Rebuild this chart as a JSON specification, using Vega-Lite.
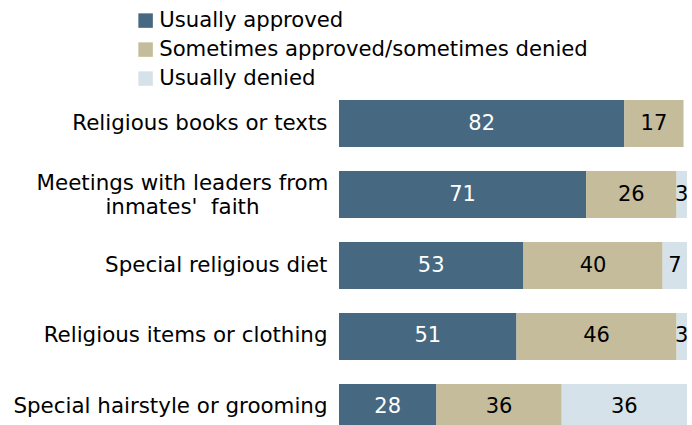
{
  "$schema": "https://vega.github.io/schema/vega-lite/v6.json",
  "autosize": "none",
  "width": 348,
  "height": 331,
  "padding": {"left": 339, "top": 100, "right": 5, "bottom": 0},
  "background": "white",
  "config": {
    "view": {"stroke": null},
    "font": "DejaVu Sans"
  },
  "data": {
    "values": [
      {"item": "Religious books or texts", "response": "Usually approved", "k": 1, "value": 82},
      {"item": "Religious books or texts", "response": "Sometimes approved/sometimes denied", "k": 2, "value": 17},
      {"item": "Religious books or texts", "response": "Usually denied", "k": 3, "value": 0},
      {"item": "Meetings with leaders from|inmates'\u00a0 faith", "response": "Usually approved", "k": 1, "value": 71},
      {"item": "Meetings with leaders from|inmates'\u00a0 faith", "response": "Sometimes approved/sometimes denied", "k": 2, "value": 26},
      {"item": "Meetings with leaders from|inmates'\u00a0 faith", "response": "Usually denied", "k": 3, "value": 3},
      {"item": "Special religious diet", "response": "Usually approved", "k": 1, "value": 53},
      {"item": "Special religious diet", "response": "Sometimes approved/sometimes denied", "k": 2, "value": 40},
      {"item": "Special religious diet", "response": "Usually denied", "k": 3, "value": 7},
      {"item": "Religious items or clothing", "response": "Usually approved", "k": 1, "value": 51},
      {"item": "Religious items or clothing", "response": "Sometimes approved/sometimes denied", "k": 2, "value": 46},
      {"item": "Religious items or clothing", "response": "Usually denied", "k": 3, "value": 3},
      {"item": "Special hairstyle or grooming", "response": "Usually approved", "k": 1, "value": 28},
      {"item": "Special hairstyle or grooming", "response": "Sometimes approved/sometimes denied", "k": 2, "value": 36},
      {"item": "Special hairstyle or grooming", "response": "Usually denied", "k": 3, "value": 36}
    ]
  },
  "transform": [
    {"stack": "value", "groupby": ["item"], "sort": [{"field": "k", "order": "ascending"}], "as": ["x0", "x1"]},
    {"calculate": "(datum.x0 + datum.x1) / 2", "as": "xm"}
  ],
  "encoding": {
    "y": {
      "field": "item",
      "type": "nominal",
      "sort": null,
      "scale": {"paddingInner": 0.338, "paddingOuter": 0},
      "axis": {
        "title": null,
        "domain": false,
        "ticks": false,
        "labelFontSize": 21.4,
        "labelColor": "#000000",
        "labelFont": "DejaVu Sans",
        "labelLineHeight": 24,
        "labelExpr": "split(datum.value, '|')",
        "labelAlign": {"condition": {"test": "indexof(datum.value, '|') >= 0", "value": "center"}, "value": "right"},
        "labelPadding": {"condition": {"test": "indexof(datum.value, '|') >= 0", "value": 157}, "value": 12},
        "labelOffset": {"condition": {"test": "indexof(datum.value, '|') >= 0", "value": -11}, "value": 0},
        "labelLimit": 400
      }
    }
  },
  "layer": [
    {
      "mark": {"type": "bar"},
      "encoding": {
        "x": {"field": "x0", "type": "quantitative", "scale": {"domain": [0, 100], "nice": false}, "axis": null},
        "x2": {"field": "x1"},
        "color": {
          "field": "response",
          "type": "nominal",
          "scale": {
            "domain": ["Usually approved", "Sometimes approved/sometimes denied", "Usually denied"],
            "range": ["#466880", "#c4bc9a", "#d6e2ea"]
          },
          "legend": {
            "title": null,
            "orient": "none",
            "legendX": -204,
            "legendY": -90,
            "direction": "vertical",
            "symbolType": "square",
            "symbolSize": 210,
            "symbolStrokeWidth": 0,
            "labelFontSize": 21.2,
            "labelFont": "DejaVu Sans",
            "labelColor": "#000000",
            "labelOffset": 3,
            "rowPadding": 7,
            "padding": 0,
            "labelLimit": 500
          }
        }
      }
    },
    {
      "transform": [{"filter": "datum.value > 0"}],
      "mark": {"type": "text", "fontSize": 21, "font": "DejaVu Sans", "align": "center", "baseline": "middle"},
      "encoding": {
        "x": {"field": "xm", "type": "quantitative"},
        "text": {"field": "value", "type": "quantitative"},
        "color": {
          "condition": {"test": "datum.response == 'Usually approved'", "value": "#ffffff"},
          "value": "#000000"
        }
      }
    }
  ]
}
